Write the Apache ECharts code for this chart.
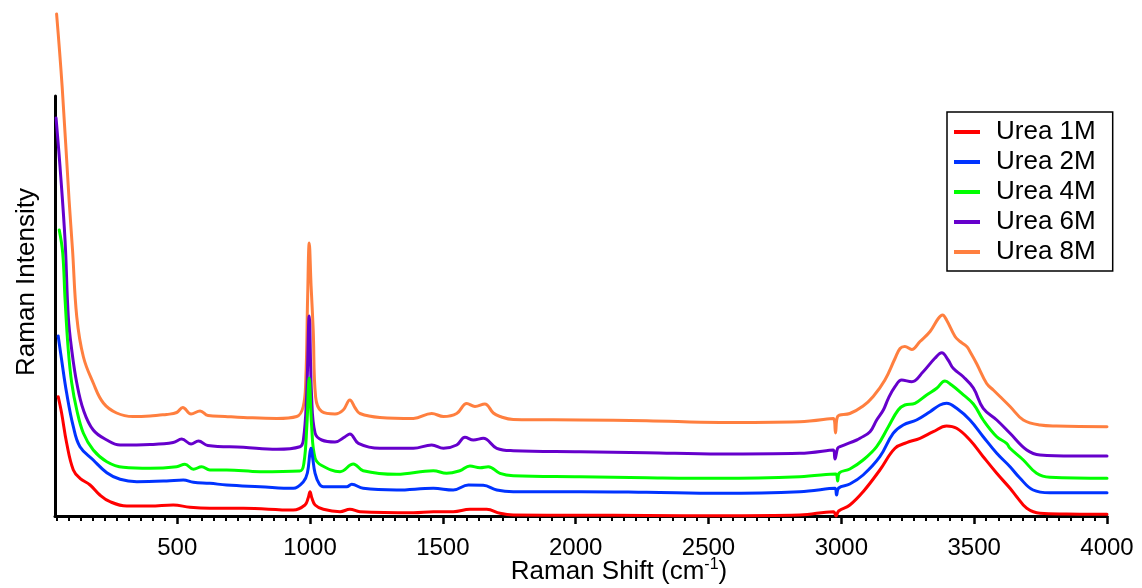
<!DOCTYPE html>
<html>
<head>
<meta charset="utf-8">
<script src="https://cdn.jsdelivr.net/npm/echarts@6/dist/echarts.min.js"></script>
<style>
  html, body { margin: 0; padding: 0; background: #ffffff; }
  #chart { width: 1142px; height: 588px; }
</style>
</head>
<body>
<div id="chart"></div>
<script>
// Raman spectra of aqueous urea solutions, vertically offset per concentration.
// Each spectrum: [Raman shift (cm-1), intensity (arb. units)]
const seriesNames = ['Urea 1M', 'Urea 2M', 'Urea 4M', 'Urea 6M', 'Urea 8M'];
const seriesColors = ['#ff0000', '#0033ff', '#00ff00', '#6600cc', '#ff7f3f'];

const urea1M = [[52,1193],[65,1027],[84,727],[109,460],[134,377],[172,310],[209,210],[247,143],[310,100],[398,100],[485,110],[548,87],[623,77],[749,77],[937,60],[981,110],[993,180],[1000,243],[1007,180],[1019,110],[1050,67],[1113,43],[1150,67],[1188,43],[1389,33],[1464,43],[1539,43],[1602,67],[1665,67],[1715,27],[1765,10],[2016,8],[2267,5],[2543,3],[2844,10],[2970,43],[2980,0],[2990,50],[3032,110],[3082,243],[3145,460],[3202,677],[3246,733],[3296,777],[3346,843],[3396,900],[3434,877],[3484,760],[3534,593],[3585,427],[3635,277],[3660,193],[3698,77],[3748,27],[3848,20],[4000,17]];

const urea2M = [[52,1800],[65,1560],[84,1227],[109,893],[134,693],[184,560],[235,433],[285,367],[348,343],[460,350],[523,360],[561,337],[623,327],[686,310],[812,293],[937,277],[975,343],[990,430],[1000,640],[1004,677],[1009,600],[1019,427],[1035,320],[1050,293],[1138,293],[1157,317],[1200,277],[1326,260],[1464,277],[1539,260],[1596,310],[1652,307],[1703,260],[1765,243],[2016,243],[2267,237],[2543,227],[2844,243],[2976,277],[2982,210],[2990,280],[3032,320],[3082,410],[3145,593],[3195,827],[3233,910],[3283,960],[3334,1043],[3371,1110],[3396,1127],[3434,1077],[3484,960],[3534,793],[3585,627],[3635,493],[3672,380],[3722,260],[3785,233],[4000,233]];

const urea4M = [[56,2860],[69,2630],[78,2160],[90,1660],[103,1330],[122,1060],[147,827],[184,660],[235,543],[297,487],[398,477],[498,493],[529,517],[561,467],[592,493],[623,460],[686,460],[812,443],[962,450],[977,530],[988,900],[997,1380],[1006,900],[1019,580],[1044,505],[1113,443],[1163,520],[1200,453],[1326,417],[1464,453],[1514,427],[1564,453],[1602,500],[1640,483],[1671,493],[1715,427],[1765,403],[2016,393],[2267,383],[2543,377],[2844,393],[2980,420],[2986,350],[2992,430],[3032,470],[3082,560],[3133,693],[3177,893],[3214,1060],[3239,1110],[3277,1127],[3321,1210],[3359,1277],[3390,1350],[3415,1310],[3453,1227],[3497,1120],[3534,960],[3585,793],[3622,727],[3635,677],[3685,560],[3735,427],[3785,387],[4000,377]];

const urea6M = [[44,3980],[59,3490],[78,2750],[90,1995],[103,1660],[122,1330],[147,1060],[184,860],[235,760],[285,710],[398,715],[485,735],[517,770],[552,720],[580,750],[615,705],[749,687],[875,667],[962,693],[975,760],[987,1190],[997,2000],[1006,1190],[1019,830],[1044,760],[1094,740],[1132,793],[1150,820],[1182,727],[1263,677],[1389,677],[1458,710],[1502,677],[1552,710],[1583,787],[1615,760],[1652,777],[1703,677],[1765,653],[2016,643],[2267,633],[2543,620],[2844,627],[2970,660],[2976,570],[2986,677],[2995,693],[3058,760],[3070,777],[3108,843],[3133,960],[3158,1060],[3177,1177],[3202,1293],[3227,1360],[3265,1343],[3308,1443],[3352,1577],[3378,1633],[3402,1560],[3421,1477],[3459,1393],[3497,1280],[3534,1077],[3585,960],[3635,827],[3698,660],[3748,610],[3873,600],[4000,600]];

const urea8M = [[46,5020],[67,4290],[93,3160],[106,2660],[122,1990],[147,1590],[184,1330],[222,1130],[272,1030],[334,995],[398,1000],[435,1010],[460,1015],[498,1035],[521,1085],[552,1020],[586,1050],[616,1005],[680,995],[749,985],[875,975],[950,995],[974,1090],[984,1360],[991,2190],[997,2730],[1004,2300],[1012,1860],[1021,1190],[1044,1045],[1094,1020],[1125,1060],[1150,1160],[1170,1080],[1188,1025],[1263,985],[1389,975],[1458,1025],[1502,995],[1552,1025],[1590,1125],[1621,1095],[1658,1120],[1690,1030],[1715,995],[1765,965],[2016,960],[2267,953],[2543,935],[2844,943],[2970,975],[2978,830],[2986,995],[3032,1025],[3082,1100],[3120,1195],[3164,1360],[3202,1575],[3221,1675],[3239,1695],[3265,1665],[3296,1745],[3334,1845],[3365,1975],[3381,2010],[3396,1960],[3428,1795],[3447,1745],[3472,1695],[3484,1645],[3509,1525],[3547,1325],[3572,1260],[3597,1195],[3635,1095],[3685,960],[3748,910],[3810,900],[4000,893]];

const spectra = [urea1M, urea2M, urea4M, urea6M, urea8M];

// x-axis: labelled ticks every 500 cm-1, ten minor ticks between them
const shiftMin = 40;
const shiftMax = 4000;
const majorTicks = [500, 1000, 1500, 2000, 2500, 3000, 3500, 4000];
const minorPerMajor = 11;
const minorTicks = [];
{
  const step = (majorTicks[1] - majorTicks[0]) / minorPerMajor;
  for (let v = majorTicks[0] - step; v >= shiftMin; v -= step) minorTicks.push(+v.toFixed(2));
  for (let i = 0; i < majorTicks.length - 1; i++) {
    for (let k = 1; k < minorPerMajor; k++) minorTicks.push(+(majorTicks[i] + k * step).toFixed(2));
  }
}

const FONT = 'Liberation Sans, Arial, sans-serif';
const chart = echarts.init(document.getElementById('chart'), null, { renderer: 'canvas' });

const plotBox = { left: 55, right: 35, top: 96, bottom: 72, containLabel: false, outerBoundsMode: 'none' };

// draw 8M first so the lower concentrations sit on top
const series = [];
for (let i = spectra.length - 1; i >= 0; i--) {
  series.push({
    name: seriesNames[i],
    type: 'line',
    data: spectra[i],
    xAxisIndex: 0,
    yAxisIndex: 0,
    showSymbol: false,
    symbol: 'none',
    smooth: 0.4,
    clip: false,
    color: seriesColors[i],
    lineStyle: { color: seriesColors[i], width: 3, join: 'round', cap: 'round' },
    emphasis: { disabled: true },
    z: 3
  });
}

chart.setOption({
  backgroundColor: '#ffffff',
  animation: false,
  // second grid sits exactly on the first and only carries the minor ticks
  grid: [Object.assign({}, plotBox), Object.assign({}, plotBox)],
  legend: {
    orient: 'vertical',
    left: 947,
    top: 112,
    data: seriesNames,
    icon: 'rect',
    itemWidth: 26,
    itemHeight: 4,
    itemGap: 4,
    padding: [7, 17, 6, 7],
    borderColor: '#000000',
    borderWidth: 1.5,
    backgroundColor: '#ffffff',
    selectedMode: false,
    textStyle: { fontFamily: FONT, fontSize: 26, lineHeight: 25, color: '#000000', padding: [0, 0, 0, 11] }
  },
  xAxis: [
    {
      gridIndex: 0,
      type: 'value',
      min: shiftMin,
      max: shiftMax,
      position: 'bottom',
      name: '{a|Raman Shift (cm}{s|-1}{a|)}',
      nameLocation: 'middle',
      nameGap: 41,
      nameMoveOverlap: false,
      nameTextStyle: {
        padding: [0, 0, 0, 76],
        rich: {
          a: { fontFamily: FONT, fontSize: 26, color: '#000000', lineHeight: 30 },
          s: { fontFamily: FONT, fontSize: 16, color: '#000000', lineHeight: 30, verticalAlign: 'top' }
        }
      },
      axisLine: { show: true, onZero: false, lineStyle: { color: '#000000', width: 3 } },
      axisTick: { show: true, customValues: majorTicks, length: 8, lineStyle: { color: '#000000', width: 2.5 } },
      axisLabel: {
        show: true, customValues: majorTicks, margin: 20,
        fontFamily: FONT, fontSize: 24, color: '#000000',
        formatter: (v) => String(v)
      },
      splitLine: { show: false },
      minorTick: { show: false }
    },
    {
      gridIndex: 1,
      type: 'value',
      min: shiftMin,
      max: shiftMax,
      position: 'bottom',
      axisLine: { show: false, onZero: false },
      axisTick: { show: true, customValues: minorTicks, length: 5, lineStyle: { color: '#000000', width: 2 } },
      axisLabel: { show: false, customValues: minorTicks },
      splitLine: { show: false }
    }
  ],
  yAxis: [
    {
      gridIndex: 0,
      type: 'value',
      min: 0,
      max: 4200,
      name: 'Raman Intensity',
      nameLocation: 'middle',
      nameRotate: 90,
      nameGap: 15,
      nameMoveOverlap: false,
      nameTextStyle: { fontFamily: FONT, fontSize: 26, color: '#000000', padding: [0, 0, 0, 48] },
      axisLine: { show: true, onZero: false, lineStyle: { color: '#000000', width: 3 } },
      axisTick: { show: false },
      axisLabel: { show: false },
      splitLine: { show: false }
    },
    {
      gridIndex: 1,
      type: 'value',
      min: 0,
      max: 4200,
      show: false
    }
  ],
  series: series
});
</script>
</body>
</html>
